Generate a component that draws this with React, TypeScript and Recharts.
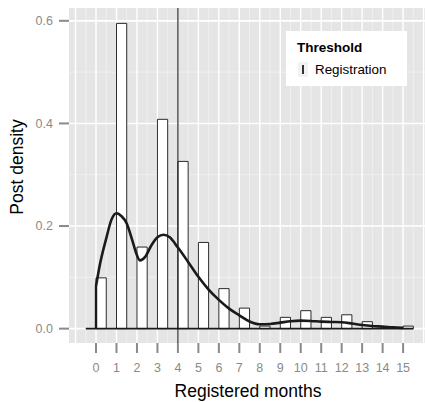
import React from 'react';
import { ComposedChart, Line, XAxis, YAxis, CartesianGrid, ReferenceLine, ReferenceArea } from 'recharts';

const months = [0, 1, 2, 3, 4, 5, 6, 7, 8, 9, 10, 11, 12, 13, 14, 15];
const barDensity = [0.099, 0.595, 0.159, 0.408, 0.326, 0.168, 0.078, 0.040, 0.005, 0.022, 0.035, 0.022, 0.027, 0.0136, 0, 0.005];
const densityX = [0, 0.2, 0.5, 0.75, 1.0, 1.25, 1.5, 1.75, 2.0, 2.15, 2.4, 2.7, 3.0, 3.3, 3.6, 4.0, 4.5, 5.0, 5.5, 6.0, 6.5, 7.0, 7.5, 8.0, 8.5, 9.0, 9.5, 10.0, 10.5, 11.0, 11.5, 12.0, 12.5, 13.0, 13.5, 14.0, 14.5, 15.0];
const densityY = [0.083, 0.127, 0.176, 0.212, 0.225, 0.219, 0.205, 0.175, 0.143, 0.133, 0.140, 0.162, 0.178, 0.183, 0.178, 0.158, 0.130, 0.101, 0.076, 0.056, 0.039, 0.026, 0.014, 0.0085, 0.009, 0.0117, 0.0145, 0.0156, 0.015, 0.0136, 0.013, 0.0125, 0.010, 0.007, 0.005, 0.004, 0.0025, 0.0015];
const yTicks = [0, 0.2, 0.4, 0.6];
const yTickLabels = ['0.0', '0.2', '0.4', '0.6'];
const yMinor = [0.1, 0.3, 0.5];
const xMajor = [-1, 0, 1, 2, 3, 4, 5, 6, 7, 8, 9, 10, 11, 12, 13, 14, 15, 16];
const xMinor = [-0.5, 0.5, 1.5, 2.5, 3.5, 4.5, 5.5, 6.5, 7.5, 8.5, 9.5, 10.5, 11.5, 12.5, 13.5, 14.5, 15.5];
const threshold = 4;
const binWidth = 0.5;
const baselineFrom = -0.5;
const baselineTo = 15.5;
const xDomain = [-1.32, 16.07];
const yDomain = [-0.028, 0.625];

const densityData = densityX.map((x, i) => ({ x, d: densityY[i] }));

const FONT = '"Liberation Sans", Arial, Helvetica, sans-serif';

export default function App() {
  return (
    <div style={{ position: 'absolute', left: 0, top: 0, width: 425, height: 402, background: '#fff', fontFamily: FONT }}>
      <ComposedChart width={425} height={402} data={densityData} margin={{ top: 8, right: 0, bottom: 0, left: 0 }}>
        <CartesianGrid fill="#E5E5E5" horizontal={false} vertical={false} stroke="none" />
        {yMinor.map((v) => (
          <ReferenceLine key={'ym' + v} y={v} stroke="#F2F2F2" strokeWidth={0.8} zIndex={-50} />
        ))}
        {xMinor.map((v) => (
          <ReferenceLine key={'xm' + v} x={v} stroke="#F2F2F2" strokeWidth={0.8} zIndex={-50} />
        ))}
        {yTicks.map((v) => (
          <ReferenceLine key={'yM' + v} y={v} stroke="#FFFFFF" strokeWidth={1.6} zIndex={-40} />
        ))}
        {xMajor.map((v) => (
          <ReferenceLine key={'xM' + v} x={v} stroke="#FFFFFF" strokeWidth={1.4} zIndex={-40} />
        ))}
        <XAxis
          type="number"
          dataKey="x"
          domain={xDomain}
          allowDataOverflow
          ticks={months}
          interval={0}
          height={59}
          axisLine={false}
          tickLine={{ stroke: '#8a8a8a', strokeWidth: 2 }}
          tickSize={10}
          tickMargin={10}
          tick={{ fill: '#8a8a8a', fontSize: 12.5, fontFamily: FONT }}
          label={{
            content: () => (
              <text x={248} y={396.5} textAnchor="middle" fontSize={17.5} fontFamily={FONT} fill="#000">
                Registered months
              </text>
            ),
          }}
        />
        <YAxis
          type="number"
          domain={yDomain}
          allowDataOverflow
          ticks={yTicks}
          tickFormatter={(v: number) => yTickLabels[yTicks.indexOf(v)] ?? String(v)}
          width={69}
          axisLine={false}
          tickLine={{ stroke: '#8a8a8a', strokeWidth: 2 }}
          tickSize={10}
          tickMargin={6}
          tick={{ fill: '#8a8a8a', fontSize: 12.5, fontFamily: FONT }}
          label={{
            content: () => (
              <text x={23} y={167} transform="rotate(-90 23 167)" textAnchor="middle" fontSize={17.5} fontFamily={FONT} fill="#000">
                Post density
              </text>
            ),
          }}
        />
        {months.map((m, i) =>
          barDensity[i] > 0 ? (
            <ReferenceArea
              key={'bar' + m}
              x1={m}
              x2={m + binWidth}
              y1={0}
              y2={barDensity[i]}
              fill="#FFFFFF"
              fillOpacity={1}
              stroke="#2a2a2a"
              strokeWidth={1}
              zIndex={100}
            />
          ) : null
        )}
        <ReferenceLine
          segment={[{ x: baselineFrom, y: 0 }, { x: baselineTo, y: 0 }]}
          stroke="#1a1a1a"
          strokeWidth={1.8}
          zIndex={350}
        />
        <ReferenceLine
          segment={[{ x: densityX[0], y: 0 }, { x: densityX[0], y: densityY[0] }]}
          stroke="#1a1a1a"
          strokeWidth={2.4}
          zIndex={350}
        />
        <Line
          type="monotone"
          dataKey="d"
          stroke="#1a1a1a"
          strokeWidth={2.6}
          dot={false}
          activeDot={false}
          isAnimationActive={false}
          zIndex={400}
        />
        <ReferenceLine x={threshold} stroke="#1a1a1a" strokeWidth={1.1} zIndex={500} />
      </ComposedChart>
      <div
        style={{
          position: 'absolute',
          left: 286,
          top: 31,
          width: 121,
          height: 55,
          background: '#FFFFFF',
          fontFamily: FONT,
          color: '#000',
        }}
      >
        <div style={{ position: 'absolute', left: 11, top: 9, fontSize: 13.5, fontWeight: 'bold', lineHeight: '16px' }}>Threshold</div>
        <div style={{ position: 'absolute', left: 12, top: 31, width: 10, height: 15, background: '#F2F2F2' }}>
          <div style={{ position: 'absolute', left: 4, top: 3, width: 2, height: 9, background: '#333' }} />
        </div>
        <div style={{ position: 'absolute', left: 29, top: 31, fontSize: 13.4, lineHeight: '16px' }}>Registration</div>
      </div>
    </div>
  );
}
